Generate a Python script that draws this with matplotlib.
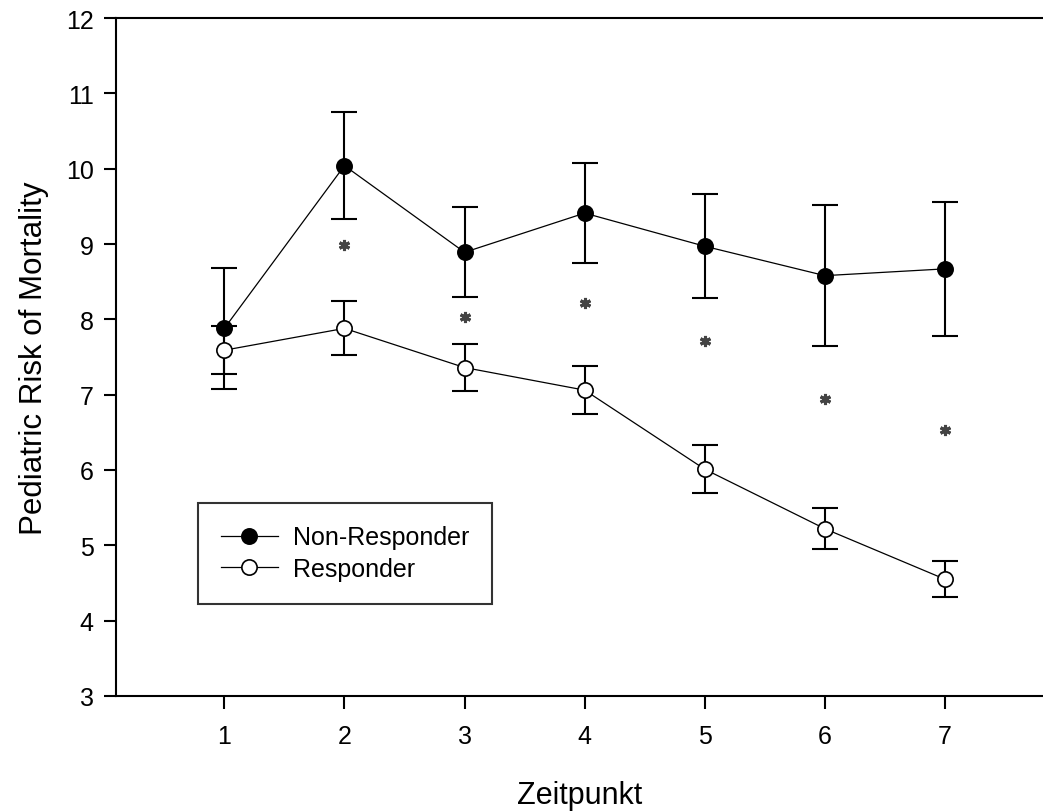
import matplotlib
matplotlib.use("Agg")
import matplotlib.pyplot as plt

# ---- data ----
timepoints = [1, 2, 3, 4, 5, 6, 7]
non_responder = [7.88, 10.04, 8.89, 9.41, 8.97, 8.58, 8.67]
non_responder_err = [0.80, 0.71, 0.60, 0.66, 0.69, 0.94, 0.89]
responder = [7.59, 7.88, 7.36, 7.06, 6.01, 5.22, 4.55]
responder_err = [0.32, 0.36, 0.31, 0.32, 0.32, 0.27, 0.24]
star_x = [2, 3, 4, 5, 6, 7]
star_y = [8.99, 8.03, 8.22, 7.71, 6.94, 6.53]
y_ticks = [3, 4, 5, 6, 7, 8, 9, 10, 11, 12]
x_ticks = [1, 2, 3, 4, 5, 6, 7]

plt.rcParams['font.family'] = ['Liberation Sans', 'DejaVu Sans']

fig = plt.figure(figsize=(10.43, 8.12), dpi=100)
ax = fig.add_axes([116/1043, 1 - 697/812, 1 - 116/1043, (697 - 19)/812])

ax.errorbar(timepoints, non_responder, yerr=non_responder_err, fmt='none',
            ecolor='black', elinewidth=1.5, capsize=9.5, capthick=1.5, zorder=2)
ax.errorbar(timepoints, responder, yerr=responder_err, fmt='none',
            ecolor='black', elinewidth=1.5, capsize=9.5, capthick=1.5, zorder=2)
ax.plot(timepoints, non_responder, '-', color='black', lw=0.9, marker='o',
        markersize=11, markerfacecolor='black', markeredgecolor='black',
        markeredgewidth=1.2, label='Non-Responder', zorder=3)
ax.plot(timepoints, responder, '-', color='black', lw=0.9, marker='o',
        markersize=11, markerfacecolor='white', markeredgecolor='black',
        markeredgewidth=1.2, label='Responder', zorder=3)
ax.plot(star_x, star_y, linestyle='none', marker=(6, 2, 0), markersize=8,
        markeredgewidth=2.2, color='#444444', zorder=2)

ax.set_xlim(0.098, 7.816)
ax.set_ylim(3, 12)
ax.set_xticks(x_ticks)
ax.set_yticks(y_ticks)
ax.tick_params(axis='both', direction='out', length=9, width=1.5,
               labelsize=18, colors='black')
ax.tick_params(axis='x', pad=11)
ax.tick_params(axis='y', pad=7)
for s in ['left', 'top', 'bottom']:
    ax.spines[s].set_linewidth(1.5)
ax.spines['right'].set_visible(False)

ax.set_xlabel('Zeitpunkt', fontsize=22, labelpad=23)
ax.set_ylabel('Pediatric Risk of Mortality', fontsize=22.5, labelpad=12)

leg = ax.legend(loc='upper left', bbox_to_anchor=((198 - 116)/927, (697 - 504)/678),
                fontsize=18, frameon=True, fancybox=False, edgecolor='black',
                handlelength=2.3, handletextpad=0.6, borderpad=0.9,
                labelspacing=0.3, borderaxespad=0)
leg.get_frame().set_linewidth(1.5)

fig.savefig('out.png', dpi=100)
